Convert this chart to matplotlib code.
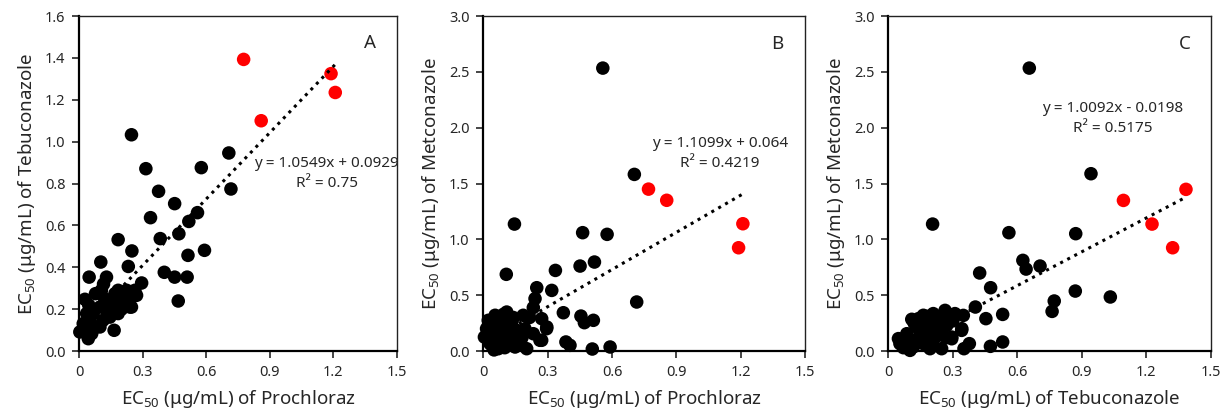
import matplotlib
matplotlib.use("Agg")
import matplotlib.pyplot as plt
import numpy as np

plt.rcParams['font.family'] = ['Noto Sans', 'DejaVu Sans']
plt.rcParams['mathtext.fontset'] = 'custom'
plt.rcParams['mathtext.rm'] = 'Noto Sans'
plt.rcParams['mathtext.it'] = 'Noto Sans:italic'

# ---- Panel A: Prochloraz (x) vs Tebuconazole (y)
a_black_x = [0.247, 0.315, 0.375, 0.337, 0.184, 0.383, 0.249, 0.232, 0.102, 0.047, 0.129, 0.295,
             0.402, 0.451, 0.468, 0.510, 0.514, 0.471, 0.518, 0.451, 0.559, 0.592, 0.577, 0.707,
             0.717, 0.165, 0.027, 0.003, 0.043,
             0.105, 0.115, 0.066, 0.098, 0.130, 0.161, 0.192, 0.224, 0.248, 0.271, 0.263, 0.240,
             0.184, 0.145, 0.113, 0.082, 0.051, 0.035, 0.059, 0.098, 0.019, 0.208, 0.169, 0.137,
             0.077, 0.184, 0.247, 0.045, 0.060, 0.120, 0.200, 0.030]
a_black_y = [1.033, 0.871, 0.763, 0.637, 0.532, 0.537, 0.478, 0.404, 0.425, 0.353, 0.353, 0.325,
             0.376, 0.353, 0.239, 0.353, 0.457, 0.560, 0.619, 0.704, 0.661, 0.481, 0.876, 0.946,
             0.774, 0.099, 0.247, 0.091, 0.059,
             0.290, 0.320, 0.179, 0.210, 0.194, 0.226, 0.274, 0.290, 0.258, 0.266, 0.290, 0.210,
             0.179, 0.162, 0.147, 0.115, 0.147, 0.179, 0.083, 0.115, 0.131, 0.242, 0.274, 0.210,
             0.274, 0.290, 0.210, 0.220, 0.120, 0.250, 0.200, 0.100]
a_red_x = [0.777, 0.860, 1.190, 1.210]
a_red_y = [1.393, 1.100, 1.325, 1.235]
a_fit = (1.0549, 0.0929)
a_eq = ["y = 1.0549x + 0.0929", "R² = 0.75"]

# ---- Panel B: Prochloraz (x) vs Metconazole (y)
b_black_x = [0.557, 0.704, 0.145, 0.463, 0.577, 0.451, 0.518, 0.336, 0.107, 0.319, 0.249, 0.241,
             0.233, 0.715, 0.373, 0.455, 0.513, 0.471, 0.385, 0.404, 0.508, 0.591, 0.295, 0.272,
             0.005, 0.023, 0.055, 0.109, 0.086, 0.062, 0.031, 0.070, 0.124, 0.156, 0.186, 0.194,
             0.202, 0.171, 0.264, 0.296, 0.272, 0.132, 0.093, 0.047, 0.148, 0.233, 0.040, 0.100,
             0.070, 0.120, 0.215, 0.180, 0.015, 0.060, 0.085, 0.110, 0.140, 0.035, 0.160, 0.075,
             0.050, 0.095]
b_black_y = [2.534, 1.582, 1.137, 1.060, 1.045, 0.761, 0.797, 0.722, 0.687, 0.543, 0.567, 0.469,
             0.389, 0.439, 0.343, 0.313, 0.275, 0.254, 0.081, 0.051, 0.018, 0.036, 0.200, 0.096,
             0.125, 0.275, 0.320, 0.349, 0.245, 0.155, 0.066, 0.021, 0.096, 0.185, 0.320, 0.200,
             0.021, 0.066, 0.096, 0.215, 0.290, 0.260, 0.125, 0.215, 0.036, 0.155, 0.050, 0.030,
             0.300, 0.180, 0.300, 0.120, 0.200, 0.240, 0.080, 0.200, 0.300, 0.170, 0.130, 0.110,
             0.010, 0.330]
b_red_x = [0.770, 0.855, 1.190, 1.210]
b_red_y = [1.450, 1.350, 0.925, 1.140]
b_fit = (1.1099, 0.064)
b_eq = ["y = 1.1099x + 0.064", "R² = 0.4219"]

# ---- Panel C: Tebuconazole (x) vs Metconazole (y)
c_black_x = [0.656, 0.943, 0.206, 0.561, 0.872, 0.626, 0.641, 0.706, 0.425, 0.476, 0.870, 1.033,
             0.772, 0.762, 0.405, 0.454, 0.532, 0.532, 0.475, 0.377, 0.352, 0.349, 0.341, 0.295,
             0.109, 0.163, 0.209, 0.264, 0.310, 0.342, 0.295, 0.248, 0.209, 0.163, 0.116, 0.054,
             0.047, 0.086, 0.132, 0.179, 0.225, 0.272, 0.101, 0.194, 0.148, 0.233, 0.070, 0.250,
             0.190, 0.130, 0.300, 0.180, 0.210, 0.240, 0.120, 0.160, 0.270, 0.090, 0.200, 0.140]
c_black_y = [2.534, 1.588, 1.137, 1.060, 1.051, 0.812, 0.734, 0.761, 0.699, 0.567, 0.537, 0.484,
             0.448, 0.355, 0.394, 0.290, 0.328, 0.081, 0.042, 0.066, 0.021, 0.319, 0.185, 0.110,
             0.284, 0.320, 0.335, 0.364, 0.335, 0.200, 0.125, 0.021, 0.096, 0.066, 0.036, 0.066,
             0.111, 0.155, 0.215, 0.245, 0.260, 0.230, 0.006, 0.021, 0.155, 0.140, 0.030, 0.300,
             0.190, 0.100, 0.270, 0.310, 0.200, 0.180, 0.250, 0.110, 0.120, 0.090, 0.060, 0.290]
c_red_x = [1.094, 1.227, 1.323, 1.385]
c_red_y = [1.349, 1.137, 0.925, 1.448]
c_fit = (1.0092, -0.0198)
c_eq = ["y = 1.0092x - 0.0198", "R² = 0.5175"]

x_ticks = [0, 0.3, 0.6, 0.9, 1.2, 1.5]
x_ticklabels = ["0", "0.3", "0.6", "0.9", "1.2", "1.5"]

panels = [
    dict(bx=a_black_x, by=a_black_y, rx=a_red_x, ry=a_red_y, fit=a_fit, eq=a_eq, letter="A",
         ymax=1.6, yticks=[0, 0.2, 0.4, 0.6, 0.8, 1.0, 1.2, 1.4, 1.6], yfmt="{:.1f}",
         xlabel="EC$_{50}$ (μg/mL) of Prochloraz", ylabel="EC$_{50}$ (μg/mL) of Tebuconazole",
         pos=[0.0645, 0.148, 0.2585, 0.813], eqxy=(1.17, 0.895), r2xy=(1.17, 0.80), letxy=(1.374, 1.47)),
    dict(bx=b_black_x, by=b_black_y, rx=b_red_x, ry=b_red_y, fit=b_fit, eq=b_eq, letter="B",
         ymax=3.0, yticks=[0, 0.5, 1.0, 1.5, 2.0, 2.5, 3.0], yfmt="{:.1f}",
         xlabel="EC$_{50}$ (μg/mL) of Prochloraz", ylabel="EC$_{50}$ (μg/mL) of Metconazole",
         pos=[0.3936, 0.148, 0.262, 0.813], eqxy=(1.104, 1.863), r2xy=(1.104, 1.684), letxy=(1.368, 2.753)),
    dict(bx=c_black_x, by=c_black_y, rx=c_red_x, ry=c_red_y, fit=c_fit, eq=c_eq, letter="C",
         ymax=3.0, yticks=[0, 0.5, 1.0, 1.5, 2.0, 2.5, 3.0], yfmt="{:.1f}",
         xlabel="EC$_{50}$ (μg/mL) of Tebuconazole", ylabel="EC$_{50}$ (μg/mL) of Metconazole",
         pos=[0.7234, 0.148, 0.2625, 0.813], eqxy=(1.044, 2.171), r2xy=(1.044, 1.992), letxy=(1.378, 2.753)),
]

fig = plt.figure(figsize=(12.28, 4.12), dpi=100)
txt_col = '#262626'
for p in panels:
    ax = fig.add_axes(p['pos'])
    ax.scatter(p['bx'], p['by'], s=95, color='black', edgecolors='none', zorder=3, clip_on=False)
    ax.scatter(p['rx'], p['ry'], s=95, color='#ff0000', edgecolors='none', zorder=3, clip_on=False)
    allx = np.array(p['bx'] + p['rx'])
    xs = np.array([allx.min(), allx.max()])
    m, c = p['fit']
    ax.plot(xs, m * xs + c, linestyle=(0, (1, 1.6)), color='black', linewidth=2.2, zorder=4)
    ax.set_xlim(0, 1.5)
    ax.set_ylim(0, p['ymax'])
    ax.set_xticks(x_ticks)
    ax.set_xticklabels(x_ticklabels)
    ax.set_yticks(p['yticks'])
    ax.set_yticklabels([p['yfmt'].format(v) for v in p['yticks']])
    ax.tick_params(direction='out', length=5, width=1.2, labelsize=10.5, colors=txt_col, pad=5)
    for s in ['left', 'bottom']:
        ax.spines[s].set_linewidth(1.6)
        ax.spines[s].set_color('black')
    for s in ['top', 'right']:
        ax.spines[s].set_linewidth(1.0)
        ax.spines[s].set_color('#222222')
    ax.set_xlabel(p['xlabel'], fontsize=13.5, color=txt_col, labelpad=6)
    ax.set_ylabel(p['ylabel'], fontsize=13.5, color=txt_col, labelpad=5)
    ax.text(*p['eqxy'], p['eq'][0], ha='center', va='center', fontsize=11, color=txt_col)
    ax.text(*p['r2xy'], p['eq'][1], ha='center', va='center', fontsize=11, color=txt_col)
    ax.text(*p['letxy'], p['letter'], ha='center', va='center', fontsize=13.5, color=txt_col)

fig.savefig('out.png', dpi=100)
